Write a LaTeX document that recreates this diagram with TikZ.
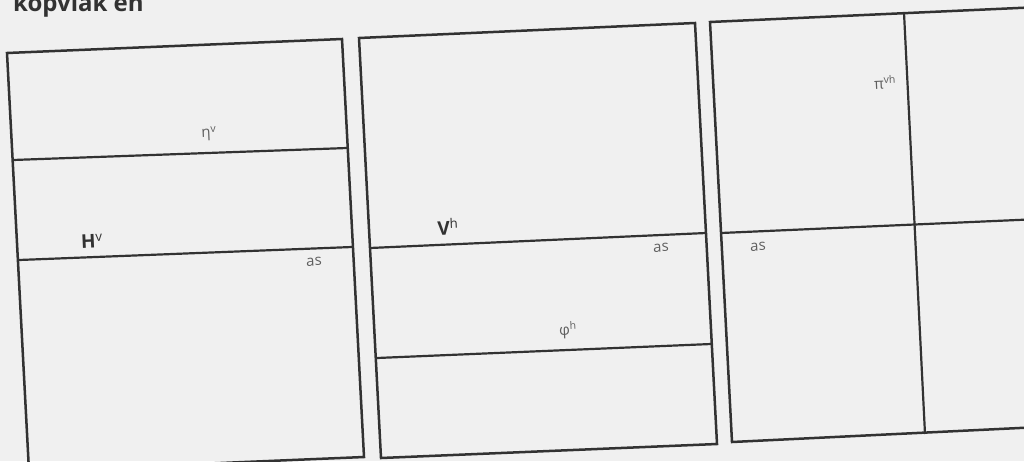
\documentclass[tikz,border=0pt]{standalone}
\usepackage{fontspec}
\setmainfont{Open Sans}
\usetikzlibrary{positioning}
\definecolor{paper}{RGB}{240,240,240}
\definecolor{ink}{RGB}{50,50,50}
\definecolor{pencil}{RGB}{95,95,95}

\begin{document}
\begin{tikzpicture}[
  x=1pt, y=-1pt,
  frame/.style={draw=ink, line width=2.5pt, line join=miter},
  divider/.style={draw=ink, line width=2.2pt},
  lbl/.style={text=pencil, inner sep=0pt, rotate=2.6, font=\fontsize{15}{15}\selectfont},
  boldlbl/.style={lbl, text=ink, font=\fontsize{19}{19}\selectfont\bfseries}
]
\fill[paper] (0,0) rectangle (1024,461);
\useasboundingbox (0,0) rectangle (1024,461);
\clip (0,0) rectangle (1024,461);

% cut-off heading
\node[anchor=base west, inner sep=0pt, text=ink, font=\fontsize{24}{24}\selectfont\bfseries]
  (heading) at (13,11) {kopviak en};

% left panel
\coordinate (L-tl) at (7,53);   \coordinate (L-tr) at (342,39);
\coordinate (L-br) at (364,457); \coordinate (L-bl) at (29,471);
\coordinate (L-eta-w) at (13,160); \coordinate (L-eta-e) at (347,148);
\coordinate (L-H-w) at (19,260);   \coordinate (L-H-e) at (352,247);
\draw[frame] (L-tl) -- (L-tr) -- (L-br) -- (L-bl) -- cycle;
\draw[divider] (L-eta-w) -- (L-eta-e);
\draw[divider] (L-H-w) -- (L-H-e);
\node[lbl] (eta) at (209,134) {η\textsuperscript{v}};
\node[boldlbl] (Hv) at (92,241) {H\textsuperscript{\mdseries v}};
\node[lbl] (as-L) at (314,262) {as};

% middle panel
\coordinate (M-tl) at (359,38);  \coordinate (M-tr) at (695,23);
\coordinate (M-br) at (717,444); \coordinate (M-bl) at (381,458);
\coordinate (M-V-w) at (370,248);   \coordinate (M-V-e) at (706,233);
\coordinate (M-phi-w) at (377,358); \coordinate (M-phi-e) at (711,344);
\draw[frame] (M-tl) -- (M-tr) -- (M-br) -- (M-bl) -- cycle;
\draw[divider] (M-V-w) -- (M-V-e);
\draw[divider] (M-phi-w) -- (M-phi-e);
\node[boldlbl] (Vh) at (448,227) {V\textsuperscript{\mdseries h}};
\node[lbl] (as-M) at (661,248) {as};
\node[lbl] (phi) at (568,330) {φ\textsuperscript{h}};

% right panel
\coordinate (R-tl) at (710,22);  \coordinate (R-tr) at (1040,7);
\coordinate (R-br) at (1040,427); \coordinate (R-bl) at (732,442);
\coordinate (R-mid-n) at (904,13); \coordinate (R-mid-s) at (925,434);
\coordinate (R-h-w) at (721,233);  \coordinate (R-h-e) at (1040,219);
\draw[frame] (R-tr) -- (R-tl) -- (R-bl) -- (R-br);
\draw[divider] (R-mid-n) -- (R-mid-s);
\draw[divider] (R-h-w) -- (R-h-e);
\node[lbl] (pi) at (885,82) {π\textsuperscript{vh}};
\node[lbl] (as-R) at (758,247) {as};

\end{tikzpicture}
\end{document}
